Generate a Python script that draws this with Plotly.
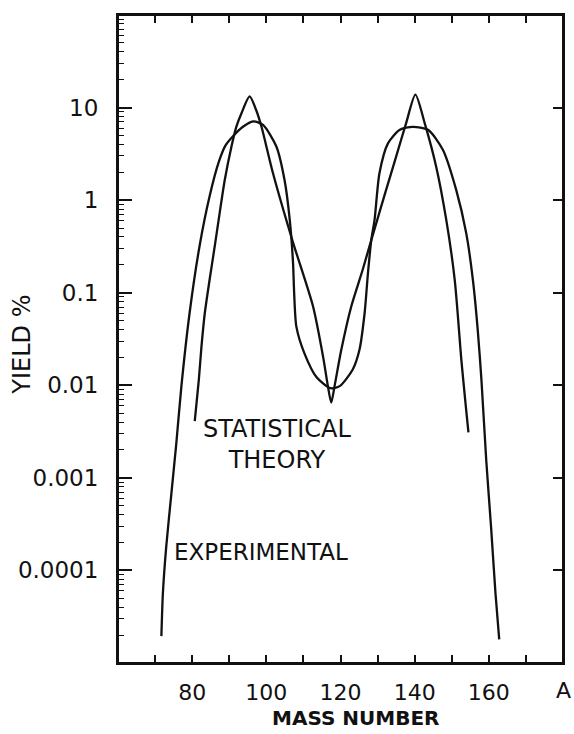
import plotly.graph_objects as go

# ---- data ----
mass_exp = [71.7, 72.1, 73.0, 74.4, 75.7, 77.1, 79.3, 82.0, 84.7, 87.2, 89.0, 91.0, 93.7, 96.4, 99.1,
            102.7, 104.9, 106.3, 107.2, 107.5, 108.1, 110.3, 113.5, 117.3, 119.8, 123.3, 125.1,
            126.5, 127.4, 128.3, 129.2, 130.5, 132.8, 136.0, 139.5, 143.6, 147.6, 151.2, 153.9,
            155.7, 157.0, 158.0, 159.3, 160.6, 161.8, 162.8]
yield_exp = [1.95e-5, 5.6e-5, 1.8e-4, 6.8e-4, 0.0023, 0.0098, 0.060, 0.32, 1.10, 2.6, 3.9, 4.9, 6.2, 7.1, 6.5,
             3.8, 1.66, 0.62, 0.21, 0.10, 0.043, 0.022, 0.0123, 0.0093, 0.0098, 0.0148, 0.024,
             0.060, 0.162, 0.37, 0.62, 1.95, 4.1, 5.75, 6.2, 5.75, 3.5, 1.29, 0.44,
             0.138, 0.040, 0.0115, 0.00155, 2.95e-4, 5.6e-5, 1.8e-5]

mass_stat = [80.7, 81.8, 82.5, 83.4, 84.7, 86.1, 87.4, 88.8, 90.6, 91.9, 93.3, 95.5, 97.3, 98.7,
             101.8, 107.0, 112.6, 115.3, 116.6, 117.5, 118.4, 120.2, 122.9, 126.0, 128.3, 132.3,
             135.0, 137.7, 140.2, 142.7, 145.8, 148.5, 150.8, 152.6, 153.6, 154.5]
yield_stat = [0.0041, 0.0115, 0.026, 0.060, 0.138, 0.32, 0.72, 1.66, 3.8, 6.2, 8.7, 13.2, 9.3, 6.2,
              1.95, 0.37, 0.071, 0.0204, 0.0098, 0.0065, 0.0098, 0.024, 0.071, 0.178, 0.37, 1.29,
              2.95, 6.8, 13.8, 6.8, 2.3, 0.62, 0.138, 0.0186, 0.0071, 0.0031]

x_tick_vals = [70, 80, 90, 100, 110, 120, 130, 140, 150, 160, 170]
x_tick_text = ["", "80", "", "100", "", "120", "", "140", "", "160", ""]
y_tick_vals = [100, 10, 1, 0.1, 0.01, 0.001, 0.0001, 0.00001]
y_tick_text = ["", "10", "1", "0.1", "0.01", "0.001", "0.0001", ""]
y_minor_vals = [m * 10.0 ** e for e in range(-5, 2) for m in range(2, 10)]

FONT = "DejaVu Sans"
INK = "#111111"

fig = go.Figure()
fig.add_trace(go.Scatter(x=mass_exp, y=yield_exp, mode="lines",
                         line=dict(color=INK, width=2.3, shape="spline", smoothing=0.7),
                         showlegend=False, hoverinfo="skip"))
fig.add_trace(go.Scatter(x=mass_stat, y=yield_stat, mode="lines",
                         line=dict(color=INK, width=2.3, shape="spline", smoothing=0.7),
                         showlegend=False, hoverinfo="skip"))
# empty trace to carry the right-hand axis
fig.add_trace(go.Scatter(x=[], y=[], yaxis="y2", showlegend=False))

fig.update_layout(
    width=574, height=734,
    margin=dict(l=118, r=11, t=15, b=71, autoexpand=False),
    paper_bgcolor="white", plot_bgcolor="white",
    font=dict(family=FONT, size=22, color=INK),
    xaxis=dict(range=[60, 180], tickmode="array", tickvals=x_tick_vals, ticktext=x_tick_text,
               ticks="inside", ticklen=8, tickwidth=1.6, tickcolor=INK,
               showline=True, linewidth=2, linecolor=INK, mirror="ticks",
               showgrid=False, zeroline=False, ticklabelstandoff=9, automargin=False,
               tickfont=dict(family=FONT, size=22, color=INK)),
    yaxis=dict(type="log", range=[-5, 2], tickmode="array", tickvals=y_tick_vals, ticktext=y_tick_text,
               ticks="inside", ticklen=14, tickwidth=1.6, tickcolor=INK,
               minor=dict(tickmode="array", tickvals=y_minor_vals, ticks="inside", ticklen=6,
                          tickwidth=1.3, tickcolor=INK, showgrid=False),
               showline=True, linewidth=2, linecolor=INK, mirror=True,
               showgrid=False, zeroline=False, ticklabelstandoff=13, automargin=False,
               tickfont=dict(family=FONT, size=23, color=INK)),
    yaxis2=dict(type="log", range=[-5, 2], overlaying="y", side="right",
                tickmode="array", tickvals=y_tick_vals[1:-1], ticks="inside", ticklen=10,
                tickwidth=1.6, tickcolor=INK, showticklabels=False,
                showline=True, linewidth=2, linecolor=INK,
                showgrid=False, zeroline=False, automargin=False),
    shapes=[dict(type="rect", xref="paper", yref="paper", x0=0, y0=0, x1=1, y1=1,
                 line=dict(color=INK, width=2), fillcolor="rgba(0,0,0,0)", layer="above")],
    annotations=[
        dict(text="YIELD %", xref="paper", yref="paper", x=-0.216, y=0.491, textangle=-90,
             showarrow=False, xanchor="center", yanchor="middle",
             font=dict(family=FONT, size=24, color=INK)),
        dict(text="<b>MASS NUMBER</b>", xref="paper", yref="paper", x=0.534, y=-0.0845,
             showarrow=False, xanchor="center", yanchor="middle",
             font=dict(family=FONT, size=20, color=INK)),
        dict(text="A", xref="paper", yref="paper", x=1.0, y=-0.043,
             showarrow=False, xanchor="center", yanchor="middle",
             font=dict(family=FONT, size=22, color=INK)),
        dict(text="STATISTICAL<br>THEORY", xref="x", yref="y", x=102.8, y=-2.644,
             showarrow=False, xanchor="center", yanchor="middle",
             font=dict(family=FONT, size=24, color=INK)),
        dict(text="EXPERIMENTAL", xref="x", yref="y", x=74.6, y=-3.805,
             showarrow=False, xanchor="left", yanchor="middle",
             font=dict(family=FONT, size=23, color=INK)),
    ],
)

# remove the browser's default page margin so the figure fills the window exactly
fig.write_html("out.html", config={"displayModeBar": False},
               post_script="document.body.style.margin='0';document.body.style.overflow='hidden';")
